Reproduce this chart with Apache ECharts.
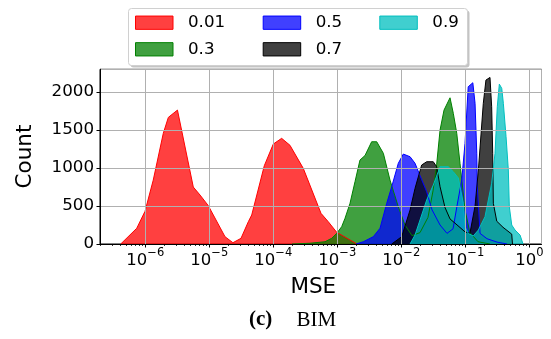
<!DOCTYPE html>
<html><head><meta charset="utf-8">
<script src="https://cdn.jsdelivr.net/npm/echarts@6/dist/echarts.min.js"></script>
<style>html,body{margin:0;padding:0;background:#fff}#c{width:551px;height:339px}</style>
</head><body><div id="c"></div>
<script>
// ---- data ----
const seriesNames = ['0.01', '0.3', '0.5', '0.7', '0.9'];

const mse001 = [4.13e-7, 7.35e-7, 9.9e-7, 1.33e-6, 1.91e-6, 2.29e-6, 3.18e-6, 5.62e-6, 7.16e-6, 9.64e-6, 1.76e-5, 2.34e-5, 3.13e-5, 4.07e-5, 4.6e-5, 7.23e-5, 1.0e-4, 1.35e-4, 1.82e-4, 2.94e-4, 5.56e-4, 7.23e-4, 9.79e-4, 2.03e-3];
const cnt001 = [0, 207, 430, 840, 1457, 1667, 1763, 750, 645, 505, 96, 17, 75, 293, 382, 1030, 1316, 1391, 1300, 996, 404, 293, 154, 0];

const mse03 = [1.96e-4, 3.74e-4, 6.43e-4, 8.17e-4, 9.79e-4, 1.17e-3, 1.32e-3, 1.58e-3, 1.89e-3, 2.26e-3, 2.71e-3, 3.44e-3, 4.13e-3, 5.24e-3, 6.65e-3, 8.97e-3, 1.14e-2, 1.47e-2, 1.96e-2, 2.61e-2, 3.13e-2, 3.57e-2, 4.03e-2, 4.65e-2, 5.77e-2, 6.49e-2, 7.35e-2, 8.26e-2, 9.89e-2, 0.118, 0.158, 0.243];
const cnt03 = [0, 10, 30, 75, 140, 228, 338, 536, 820, 1105, 1165, 1346, 1346, 1194, 842, 491, 250, 110, 150, 350, 700, 1050, 1500, 1763, 1925, 1720, 1457, 1062, 450, 150, 30, 0];

const mse05 = [1.96e-3, 2.55e-3, 3.65e-3, 4.65e-3, 5.92e-3, 7.08e-3, 8.97e-3, 1.074e-2, 1.37e-2, 1.64e-2, 1.96e-2, 2.49e-2, 3.02e-2, 4.03e-2, 5.18e-2, 6.43e-2, 7.41e-2, 8.79e-2, 9.89e-2, 0.111, 0.131, 0.142, 0.151, 0.154, 0.170, 0.218, 0.313, 0.449];
const cnt05 = [0, 30, 96, 207, 536, 754, 1062, 1184, 1149, 1062, 900, 688, 450, 250, 140, 200, 500, 842, 1325, 2070, 2123, 1852, 1194, 754, 140, 70, 25, 0];

const mse07 = [7.08e-3, 1.014e-2, 1.37e-2, 1.64e-2, 2.08e-2, 2.49e-2, 3.16e-2, 3.57e-2, 4.03e-2, 4.82e-2, 5.77e-2, 7.69e-2, 9.89e-2, 0.118, 0.142, 0.160, 0.191, 0.210, 0.243, 0.258, 0.268, 0.274, 0.310, 0.388, 0.531, 0.546];
const cnt07 = [0, 96, 447, 733, 1040, 1083, 1083, 1017, 754, 480, 330, 240, 160, 140, 500, 974, 1852, 2158, 2193, 1807, 1194, 536, 300, 220, 130, 0];

const mse09 = [1.37e-2, 1.64e-2, 1.96e-2, 2.49e-2, 3.16e-2, 4.03e-2, 5.42e-2, 6.49e-2, 7.78e-2, 9.31e-2, 9.89e-2, 0.111, 0.133, 0.160, 0.203, 0.258, 0.291, 0.316, 0.340, 0.371, 0.393, 0.433, 0.470, 0.487, 0.531, 0.598, 0.716, 0.769, 0.798];
const cnt09 = [0, 120, 316, 579, 776, 1017, 1017, 951, 869, 536, 228, 140, 105, 184, 359, 800, 1194, 1807, 2105, 2049, 1852, 1412, 974, 491, 250, 184, 118, 100, 0];

const xTickExponents = [-6, -5, -4, -3, -2, -1, 0];
const yTicks = [0, 500, 1000, 1500, 2000];
const X_MIN = 1.96e-7, X_MAX = 1.55, Y_MAX = 2300;

// ---- styling ----
const edgeColors = ['#ff0000', '#008000', '#0000ff', '#000000', '#00bfbf'];
const fillColors = ['rgba(255,0,0,0.75)', 'rgba(0,128,0,0.75)', 'rgba(0,0,255,0.75)', 'rgba(0,0,0,0.75)', 'rgba(0,191,191,0.75)'];
const xs = [mse001, mse03, mse05, mse07, mse09];
const ys = [cnt001, cnt03, cnt05, cnt07, cnt09];
const FONT = 'DejaVu Sans';
const GRID_COLOR = '#b0b0b0';
const GRID_RECT = { left: 100, right: 9.5, top: 69.3, bottom: 95 };

const series = seriesNames.map((name, i) => ({
  name, type: 'line', xAxisIndex: 0, yAxisIndex: 0,
  data: xs[i].map((x, j) => [x, ys[i][j]]),
  showSymbol: false, symbol: 'none', smooth: false,
  lineStyle: { color: edgeColors[i], width: 1 },
  itemStyle: { color: edgeColors[i] },
  areaStyle: { color: fillColors[i], opacity: 1 },
  z: 2, silent: true
}));

// minor tick positions (log10 space) for matplotlib-like minor ticks
const minorLogs = [];
for (let d = -7; d <= 0; d++) for (let k = 2; k <= 9; k++) {
  const v = d + Math.log10(k);
  if (v > Math.log10(X_MIN) && v < Math.log10(X_MAX)) minorLogs.push(v);
}

// legend placement: column-major like matplotlib (ncol=3)
const legendPos = [
  { left: 135, top: 12.7 }, { left: 135, top: 39.3 },
  { left: 262.7, top: 12.7 }, { left: 262.7, top: 39.3 },
  { left: 379.3, top: 12.7 }
];
const legends = seriesNames.map((name, i) => ({
  show: true, left: legendPos[i].left, top: legendPos[i].top, z: 20,
  orient: 'horizontal', selectedMode: false, padding: 0,
  itemWidth: 37.5, itemHeight: 13.3, icon: 'rect',
  data: [{ name, icon: 'rect', itemStyle: { color: fillColors[i], borderColor: edgeColors[i], borderWidth: 1 } }],
  textStyle: { fontFamily: FONT, fontSize: 16.7, color: '#000', lineHeight: 20, padding: [0, 0, 0, 10] }
}));

const chart = echarts.init(document.getElementById('c'), null, { renderer: 'canvas' });
chart.setOption({
  animation: false,
  backgroundColor: '#fff',
  grid: [
    Object.assign({ show: true, borderColor: '#000', borderWidth: 1 }, GRID_RECT),
    Object.assign({ show: false }, GRID_RECT)
  ],
  legend: legends,
  xAxis: [{
    gridIndex: 0, type: 'log', logBase: 10, min: X_MIN, max: X_MAX, z: 10,
    axisLine: { show: true, lineStyle: { color: '#000', width: 1 } },
    axisTick: { show: true, inside: false, length: 3.5, lineStyle: { color: '#000', width: 1 } },
    splitLine: { show: true, lineStyle: { color: GRID_COLOR, width: 1 } },
    axisLabel: {
      show: true, margin: 3, showMinLabel: false, showMaxLabel: false,
      formatter: function (v) {
        const n = Math.round(Math.log10(v));
        if (xTickExponents.indexOf(n) < 0) return '';
        return '{b|10}{s|' + (n < 0 ? '\u2212' + (-n) : String(n)) + '}';
      },
      rich: {
        b: { fontFamily: FONT, fontSize: 16.5, color: '#000', lineHeight: 22, verticalAlign: 'bottom' },
        s: { fontFamily: FONT, fontSize: 11.5, color: '#000', lineHeight: 11, verticalAlign: 'top' }
      }
    }
  }, {
    gridIndex: 1, type: 'value', position: 'bottom', min: Math.log10(X_MIN), max: Math.log10(X_MAX), z: 10,
    axisLine: { show: false }, splitLine: { show: false }, axisLabel: { show: false },
    axisTick: { show: true, inside: false, length: 2, customValues: minorLogs, lineStyle: { color: '#000', width: 0.8 } }
  }],
  yAxis: [{
    gridIndex: 0, type: 'value', min: 0, max: Y_MAX, interval: 500, z: 10,
    axisLine: { show: true, lineStyle: { color: '#000', width: 1 } },
    axisTick: { show: true, inside: false, length: 3.5, lineStyle: { color: '#000', width: 1 } },
    splitLine: { show: true, lineStyle: { color: GRID_COLOR, width: 1 } },
    axisLabel: { show: true, margin: 6, showMaxLabel: false, fontFamily: FONT, fontSize: 16.7, color: '#000',
                 formatter: function (v) { return yTicks.indexOf(v) >= 0 ? String(v) : ''; } }
  }, {
    gridIndex: 1, type: 'value', min: 0, max: 1, show: false
  }],
  series,
  graphic: [
    { type: 'rect', z: 9, silent: true, shape: { x: 130.5, y: 10.5, width: 339, height: 57, r: 3 }, style: { fill: '#c4c4c4' } },
    { type: 'rect', z: 10, silent: true, shape: { x: 128.5, y: 8.5, width: 339, height: 57, r: 3 }, style: { fill: '#fff', stroke: '#d0d0d0', lineWidth: 1 } },
    { type: 'text', z: 10, silent: true, x: 25, y: 156.5, rotation: Math.PI / 2,
      style: { text: 'Count', fontFamily: FONT, fontSize: 21.5, fill: '#000', align: 'center', verticalAlign: 'middle' } },
    { type: 'text', z: 10, silent: true, x: 313.3, y: 287.5,
      style: { text: 'MSE', fontFamily: FONT, fontSize: 21.5, fill: '#000', align: 'center', verticalAlign: 'middle' } },
    { type: 'text', z: 10, silent: true, x: 249, y: 320,
      style: { text: '(c)', fontFamily: 'Liberation Serif', fontWeight: 'bold', fontSize: 21, fill: '#000', align: 'left', verticalAlign: 'middle' } },
    { type: 'text', z: 10, silent: true, x: 296.5, y: 320,
      style: { text: 'BIM', fontFamily: 'Liberation Serif', fontSize: 21, fill: '#000', align: 'left', verticalAlign: 'middle' } }
  ]
});
</script>
</body></html>
